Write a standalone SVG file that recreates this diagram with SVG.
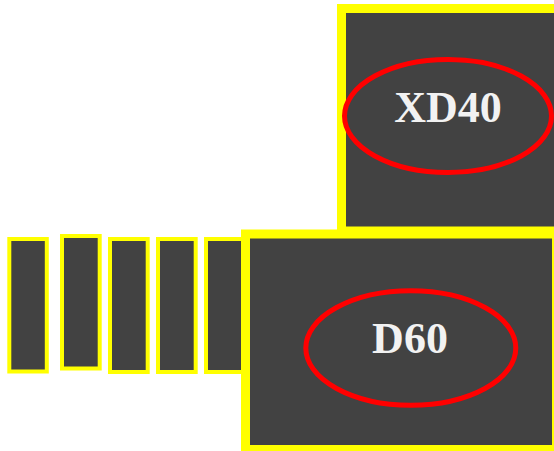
<svg xmlns="http://www.w3.org/2000/svg" width="554" height="451" viewBox="0 0 554 451">
<style>
.bar{fill:#424242;stroke:#ffff00;stroke-width:4}
.box{fill:#424242;stroke:#ffff00;stroke-width:9}
.ring{fill:none;stroke:#ff0000;stroke-width:5}
.lbl{font-family:"Liberation Serif","Times New Roman",serif;font-weight:bold;font-size:44px;fill:#f2f2f2;text-anchor:middle}
</style>
<rect width="554" height="451" fill="#ffffff"/>
<g id="bar1"><rect class="bar" x="9.3" y="239" width="37.5" height="132.5"/></g>
<g id="bar2"><rect class="bar" x="62" y="236" width="37.7" height="132.5"/></g>
<g id="bar3"><rect class="bar" x="110" y="239" width="37.7" height="133"/></g>
<g id="bar4"><rect class="bar" x="158" y="239" width="37.7" height="133"/></g>
<g id="bar5"><rect class="bar" x="206" y="239" width="37.7" height="133"/></g>
<g id="xd40">
<rect class="box" x="341.5" y="8.5" width="240" height="222.5"/>
<ellipse class="ring" cx="448" cy="116" rx="103.5" ry="56.5"/>
<text class="lbl" x="448" y="122">XD40</text>
</g>
<g id="d60">
<rect class="box" x="245.5" y="234" width="311" height="215.5"/>
<ellipse class="ring" cx="410.8" cy="348" rx="105" ry="57.2"/>
<text class="lbl" x="410" y="352.7">D60</text>
</g>
</svg>
